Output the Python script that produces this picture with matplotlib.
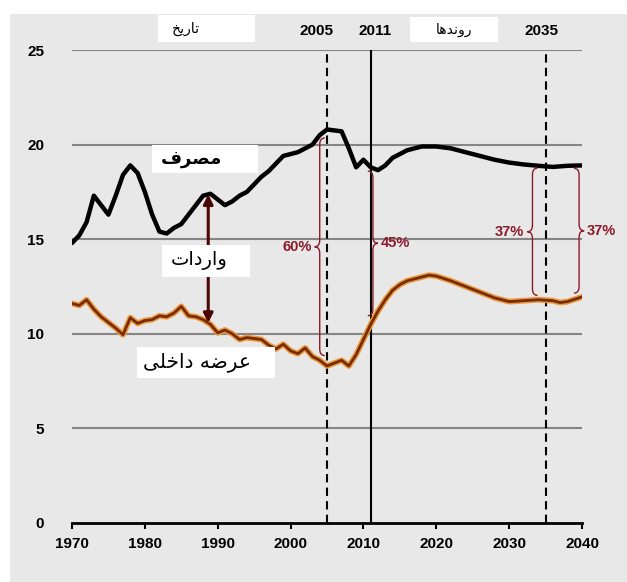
import numpy as np
import matplotlib.pyplot as plt
import matplotlib.path as mpath
import matplotlib.patches as mpatches
import matplotlib.patheffects as pe

# consumption (black line)
cons_years = [1970, 1971, 1972, 1973, 1974, 1975, 1976, 1977, 1978, 1979, 1980, 1981,
              1982, 1983, 1984, 1985, 1986, 1987, 1988, 1989, 1990, 1991, 1992, 1993,
              1994, 1995, 1996, 1997, 1998, 1999, 2000, 2001, 2002, 2003, 2004, 2005,
              2006, 2007, 2008, 2009, 2010, 2011, 2012, 2013, 2014, 2015, 2016, 2018,
              2020, 2022, 2024, 2026, 2028, 2030, 2032, 2034, 2036, 2038, 2040]
consumption = [14.8, 15.2, 15.9, 17.3, 16.8, 16.3, 17.3, 18.4, 18.9, 18.5, 17.5, 16.3,
               15.4, 15.3, 15.6, 15.8, 16.3, 16.8, 17.3, 17.4, 17.1, 16.8, 17.0, 17.3,
               17.5, 17.9, 18.3, 18.6, 19.0, 19.4, 19.5, 19.6, 19.8, 20.0, 20.5, 20.8,
               20.75, 20.7, 19.8, 18.8, 19.2, 18.8, 18.65, 18.9, 19.3, 19.5, 19.7, 19.9,
               19.9, 19.8, 19.6, 19.4, 19.2, 19.05, 18.95, 18.88, 18.82, 18.88, 18.9]

# domestic supply (brown line)
sup_years = [1970, 1971, 1972, 1973, 1974, 1975, 1976, 1977, 1978, 1979, 1980, 1981,
             1982, 1983, 1984, 1985, 1986, 1987, 1988, 1989, 1990, 1991, 1992, 1993,
             1994, 1995, 1996, 1997, 1998, 1999, 2000, 2001, 2002, 2003, 2004, 2005,
             2006, 2007, 2008, 2009, 2010, 2011, 2012, 2013, 2014, 2015, 2016, 2017,
             2018, 2019, 2020, 2022, 2024, 2026, 2028, 2030, 2032, 2034, 2036, 2037,
             2038, 2040]
supply = [11.6, 11.5, 11.8, 11.3, 10.9, 10.6, 10.3, 9.95, 10.85, 10.55, 10.7, 10.75,
          10.95, 10.9, 11.1, 11.45, 10.95, 10.9, 10.75, 10.5, 10.05, 10.2, 10.0, 9.7,
          9.8, 9.75, 9.7, 9.4, 9.2, 9.45, 9.1, 8.95, 9.25, 8.8, 8.6, 8.3,
          8.45, 8.6, 8.3, 8.9, 9.7, 10.5, 11.2, 11.8, 12.3, 12.6, 12.8, 12.9,
          13.0, 13.1, 13.05, 12.8, 12.5, 12.2, 11.9, 11.7, 11.75, 11.8, 11.75, 11.65,
          11.7, 11.95]

xticks = [1970, 1980, 1990, 2000, 2010, 2020, 2030, 2040]
yticks = [0, 5, 10, 15, 20, 25]
marker_years = [2005, 2011, 2035]
marker_styles = ['--', '-', '--']
marker_label_shift = [-1.5, 0.6, -0.5]
brace_years = [2004.0, 2011.3, 2033.2, 2039.6]
brace_labels = ['60%', '45%', '37%', '37%']
brace_sides = [-1, 1, -1, 1]
arrow_year = 1988.7

lbl_history = 'تاریخ'
lbl_trends = 'روندها'
lbl_cons = 'مصرف'
lbl_imports = 'واردات'
lbl_supply = 'عرضه داخلی'

# minimal arabic shaping (matplotlib draws left-to-right without joining)
FORMS = {
    'ا': ('\uFE8D', '\uFE8E', None, None),
    'د': ('\uFEA9', '\uFEAA', None, None),
    'ر': ('\uFEAD', '\uFEAE', None, None),
    'و': ('\uFEED', '\uFEEE', None, None),
    'ت': ('\uFE95', '\uFE96', '\uFE97', '\uFE98'),
    'خ': ('\uFEA5', '\uFEA6', '\uFEA7', '\uFEA8'),
    'ض': ('\uFEBD', '\uFEBE', '\uFEBF', '\uFEC0'),
    'ص': ('\uFEB9', '\uFEBA', '\uFEBB', '\uFEBC'),
    'ع': ('\uFEC9', '\uFECA', '\uFECB', '\uFECC'),
    'ف': ('\uFED1', '\uFED2', '\uFED3', '\uFED4'),
    'ل': ('\uFEDD', '\uFEDE', '\uFEDF', '\uFEE0'),
    'م': ('\uFEE1', '\uFEE2', '\uFEE3', '\uFEE4'),
    'ن': ('\uFEE5', '\uFEE6', '\uFEE7', '\uFEE8'),
    'ه': ('\uFEE9', '\uFEEA', '\uFEEB', '\uFEEC'),
    'ی': ('\uFEEF', '\uFEF0', '\uFEF3', '\uFEF4'),
}


def shape(text):
    out = []
    for i, ch in enumerate(text):
        if ch not in FORMS:
            out.append(ch)
            continue
        prev = text[i - 1] if i > 0 else ' '
        nxt = text[i + 1] if i < len(text) - 1 else ' '
        join_prev = prev in FORMS and FORMS[prev][2] is not None
        join_next = FORMS[ch][2] is not None and nxt in FORMS
        iso, fin, ini, med = FORMS[ch]
        if join_prev and join_next:
            out.append(med)
        elif join_prev:
            out.append(fin)
        elif join_next:
            out.append(ini)
        else:
            out.append(iso)
    return ''.join(out)[::-1]


def brace(ax, x, y0, y1, side, w=0.7, h=0.35, color='#8b1a2a'):
    ym = (y0 + y1) / 2
    o = -side * w  # ends curl away from the point
    verts = [(x + o, y1), (x, y1), (x, y1 - h),
             (x, ym + h),
             (x, ym), (x + side * w, ym),
             (x, ym), (x, ym - h),
             (x, y0 + h),
             (x, y0), (x + o, y0)]
    codes = [mpath.Path.MOVETO, mpath.Path.CURVE3, mpath.Path.CURVE3,
             mpath.Path.LINETO,
             mpath.Path.CURVE3, mpath.Path.CURVE3,
             mpath.Path.CURVE3, mpath.Path.CURVE3,
             mpath.Path.LINETO,
             mpath.Path.CURVE3, mpath.Path.CURVE3]
    ax.add_patch(mpatches.PathPatch(mpath.Path(verts, codes), fill=False,
                                    edgecolor=color, lw=1.0, clip_on=False, zorder=4))
    return ym


num_font = ['Liberation Sans Narrow', 'Liberation Sans', 'DejaVu Sans']

fig = plt.figure(figsize=(6.27, 5.82), dpi=100)
fig.patch.set_facecolor('white')
fig.add_artist(mpatches.Rectangle((10 / 627, 0), 1, 1 - 14 / 582, transform=fig.transFigure,
                                  facecolor='#e8e8e8', edgecolor='none', zorder=0))

ax = fig.add_axes([72 / 627, 1 - 523 / 582, 510 / 627, 473 / 582])
ax.set_facecolor('none')
ax.set_xlim(1970, 2040)
ax.set_ylim(0, 25)

for y in yticks[1:]:
    ax.axhline(y, color='#858585', lw=1.5, zorder=1)

for yr, ls in zip(marker_years, marker_styles):
    ax.axvline(yr, color='black', lw=1.5, ls=ls, dashes=(4, 2.5) if ls == '--' else (None, None),
               zorder=2)

ax.plot(sup_years, supply, color='#7a2a05', lw=2.0, zorder=3,
        path_effects=[pe.withStroke(linewidth=4.2, foreground='#e89a3c')])
ax.plot(cons_years, consumption, color='black', lw=3.2, zorder=3,
        solid_joinstyle='round', solid_capstyle='round')

# imports arrow
a_top = np.interp(arrow_year, cons_years, consumption)
a_bot = np.interp(arrow_year, sup_years, supply)
ax.annotate('', xy=(arrow_year, a_bot), xytext=(arrow_year, a_top),
            arrowprops=dict(arrowstyle='<|-|>', color='#4a0505', lw=2.2,
                            mutation_scale=14, shrinkA=0, shrinkB=0), zorder=5)

# share braces
for bx, lab, side in zip(brace_years, brace_labels, brace_sides):
    top = np.interp(bx, cons_years, consumption) - 0.15
    bot = np.interp(bx, sup_years, supply) + 0.25
    ym = brace(ax, bx, bot, top, side)
    ax.text(bx + side * 1.1, ym, lab, color='#8b1a2a', fontsize=10.5, fontweight='bold',
            family=num_font, ha='left' if side > 0 else 'right', va='center', clip_on=False)

ax.spines[['top', 'right', 'left']].set_visible(False)
ax.spines['bottom'].set_linewidth(2)
ax.set_xticks(xticks)
ax.set_yticks(yticks)
ax.tick_params(axis='x', direction='out', length=4, width=1.5, pad=6)
ax.tick_params(axis='y', length=0, pad=20)
for t in ax.get_xticklabels() + ax.get_yticklabels():
    t.set_fontweight('bold')
    t.set_fontsize(11)
    t.set_family(num_font)

# year labels above
for yr, dx in zip(marker_years, marker_label_shift):
    ax.text(yr + dx, 26.0, str(yr), ha='center', va='center', fontsize=11,
            fontweight='bold', family=num_font)


def label_box(x0, y0, x1, y1, text, size, tx=None, weight='normal'):
    # boxes placed in figure pixels
    fig.add_artist(mpatches.Rectangle((x0 / 627, 1 - y1 / 582), (x1 - x0) / 627, (y1 - y0) / 582,
                                      transform=fig.transFigure, facecolor='white',
                                      edgecolor='none', zorder=6))
    cx = (x0 + x1) / 2 if tx is None else tx
    fig.text(cx / 627, 1 - (y0 + y1) / 2 / 582, shape(text), ha='center', va='center',
             fontsize=size, fontweight=weight, family=['DejaVu Sans'], zorder=7)


label_box(158, 15, 255, 42, lbl_history, 10, tx=186)
label_box(410, 17, 498, 42, lbl_trends, 10)
label_box(152, 145, 258, 173, lbl_cons, 13, tx=192, weight='bold')
label_box(162, 245, 250, 277, lbl_imports, 14, tx=199)
label_box(137, 347, 275, 378, lbl_supply, 14.5, tx=197)

fig.savefig('out.png', dpi=100)
